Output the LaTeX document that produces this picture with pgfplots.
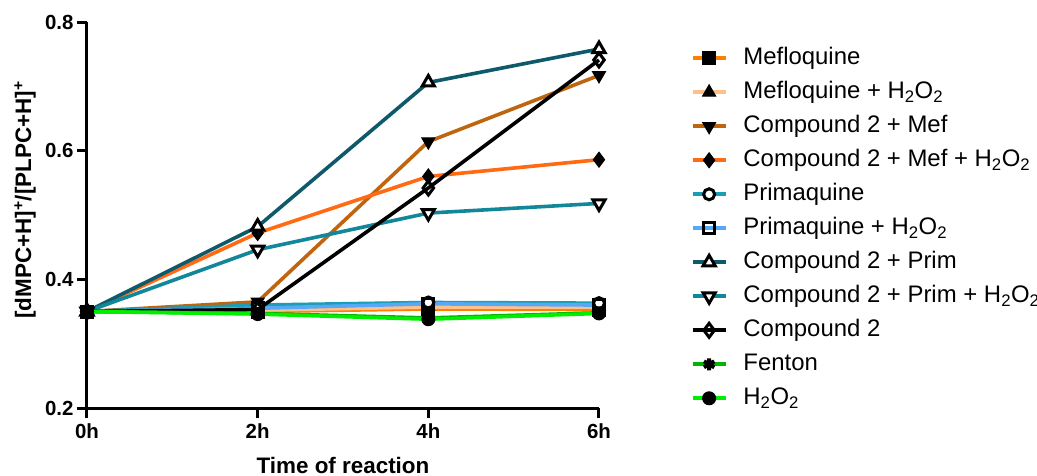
\documentclass[border=0pt]{standalone}
\usepackage{pgfplots}
\pgfplotsset{compat=1.18}
\usepackage{fontspec}
\setmainfont{Liberation Sans}
\usetikzlibrary{plotmarks}
\definecolor{cMef}{HTML}{FF8000}
\definecolor{cMefH}{HTML}{FFC08A}
\definecolor{cCMef}{HTML}{BF650F}
\definecolor{cCMefH}{HTML}{FF6A13}
\definecolor{cPrim}{HTML}{1A9DB5}
\definecolor{cPrimH}{HTML}{58A8F8}
\definecolor{cCPrim}{HTML}{0F5A6A}
\definecolor{cCPrimH}{HTML}{12879C}
\definecolor{cFen}{HTML}{00B400}
\definecolor{cHH}{HTML}{00EE00}
\newcommand{\legfont}{\fontsize{24}{24}\selectfont}
\begin{document}
\begin{tikzpicture}
\useasboundingbox (-87bp,-68bp) rectangle (950bp,408bp);
\begin{axis}[
  scale only axis,
  width=512bp, height=386bp,
  xmin=0, xmax=6, ymin=0.2, ymax=0.8,
  axis x line*=bottom, axis y line*=left,
  axis line style={line width=3bp, black},
  xtick={0,2,4,6}, xticklabels={0h,2h,4h,6h},
  ytick={0.2,0.4,0.6,0.8},
  yticklabel style={/pgf/number format/fixed,/pgf/number format/precision=1,/pgf/number format/fixed zerofill},
  /pgf/number format/assume math mode=true,
  tick align=outside, major tick length=10bp,
  tick style={line width=3bp, black},
  ticklabel style={font=\bfseries\fontsize{20.5}{20}\selectfont},
  xticklabel style={yshift=-2bp},
  xlabel={\bfseries Time of reaction},
  ylabel={\bfseries [dMPC+H]\textsuperscript{+}/[PLPC+H]\textsuperscript{+}},
  label style={font=\bfseries\fontsize{22.5}{22}\selectfont},
  xlabel style={at={(axis description cs:0.5,0)},anchor=base,yshift=-65bp},
  ylabel style={at={(axis description cs:0,0.539)},anchor=center,yshift=62bp},
  clip=false,
  every axis plot/.append style={line width=3.6bp},
  mark size=6.5bp,
  legend cell align=left,
  legend style={draw=none, fill=none, inner sep=0pt, at={(axis description cs:1.179,0.935)}, anchor=north west,
    font=\legfont, row sep=12bp, column sep=0bp,
    nodes={inner sep=0pt, text height=17.5bp, text depth=4.5bp, font=\legfont}},
  legend image code/.code={\draw[mark repeat=2,mark phase=2] plot coordinates {(0bp,0bp) (16.5bp,0bp) (33bp,0bp)} node[right,inner sep=0pt,minimum width=16bp] {};},
]
\addplot[cMef, mark=square*, mark options={solid,black,fill=black,line width=1bp,mark size=6.5bp}] coordinates {(0,0.350) (2,0.350) (4,0.354) (6,0.353)};
\addlegendentry{Mefloquine}
\addplot[cMefH, mark=triangle*, mark options={solid,black,fill=black,line width=1bp,mark size=7.5bp}] coordinates {(0,0.350) (2,0.352) (4,0.357) (6,0.357)};
\addlegendentry{Mefloquine + H\textsubscript{2}O\textsubscript{2}}
\addplot[cCMef, mark=triangle*, mark options={solid,black,fill=black,line width=1bp,rotate=180,mark size=7.5bp}] coordinates {(0,0.350) (2,0.365) (4,0.614) (6,0.717)};
\addlegendentry{Compound 2 + Mef}
\addplot[cCMefH, mark=diamond*, mark options={solid,black,fill=black,line width=1bp,mark size=7.5bp}] coordinates {(0,0.350) (2,0.472) (4,0.560) (6,0.586)};
\addlegendentry{Compound 2 + Mef + H\textsubscript{2}O\textsubscript{2}}
\addplot[cPrim, mark=*, mark options={solid,draw=black,fill=white,line width=3bp,mark size=5.5bp}] coordinates {(0,0.350) (2,0.360) (4,0.364) (6,0.363)};
\addlegendentry{Primaquine}
\addplot[cPrimH, mark=square, mark options={solid,draw=black,line width=3bp,mark size=5.5bp}] coordinates {(0,0.350) (2,0.355) (4,0.362) (6,0.360)};
\addlegendentry{Primaquine + H\textsubscript{2}O\textsubscript{2}}
\addplot[cCPrim, mark=triangle*, mark options={solid,draw=black,fill=white,line width=3bp,mark size=7bp}] coordinates {(0,0.350) (2,0.482) (4,0.706) (6,0.758)};
\addlegendentry{Compound 2 + Prim}
\addplot[cCPrimH, mark=triangle*, mark options={solid,draw=black,fill=white,line width=3bp,rotate=180,mark size=7bp}] coordinates {(0,0.350) (2,0.446) (4,0.503) (6,0.518)};
\addlegendentry{Compound 2 + Prim + H\textsubscript{2}O\textsubscript{2}}
\addplot[black, mark=diamond, mark options={solid,draw=black,line width=3bp,mark size=7bp}] coordinates {(0,0.350) (2,0.353) (4,0.542) (6,0.741)};
\addlegendentry{Compound 2}
\addplot[cFen, mark=asterisk, mark options={solid,black,line width=4bp,mark size=6bp}] coordinates {(0,0.350) (2,0.347) (4,0.340) (6,0.348)};
\addlegendentry{Fenton}
\addplot[cHH, mark=*, mark options={solid,black,fill=black,line width=1bp,mark size=6.5bp}] coordinates {(0,0.350) (2,0.346) (4,0.338) (6,0.347)};
\addlegendentry{H\textsubscript{2}O\textsubscript{2}}
\end{axis}
\end{tikzpicture}
\end{document}
